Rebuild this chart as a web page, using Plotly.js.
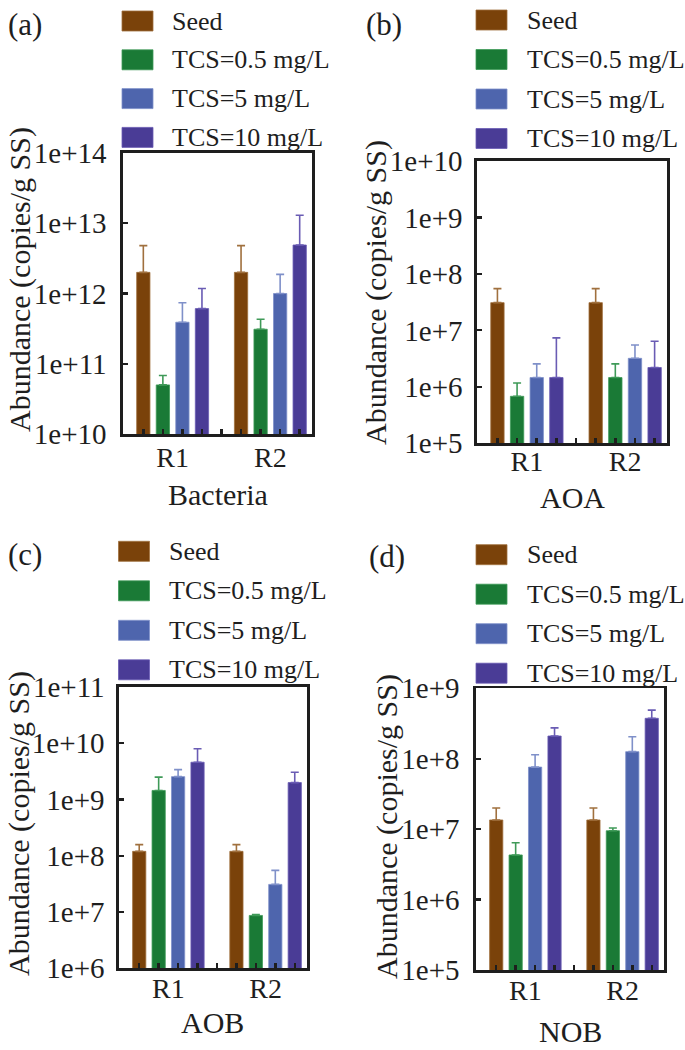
<!DOCTYPE html>
<html><head><meta charset="utf-8">
<script src="https://cdn.plot.ly/plotly-3.0.1.min.js"></script>
<style>html,body{margin:0;padding:0;background:#fff}#chart{width:685px;height:1050px}</style>
</head><body><div id="chart"></div>
<script>
// ---------- data ----------
const categories = ['R1', 'R2'];
const seriesNames = ['Seed', 'TCS=0.5 mg/L', 'TCS=5 mg/L', 'TCS=10 mg/L'];
const panelLabels = ['(a)', '(b)', '(c)', '(d)'];
const panelTitles = ['Bacteria', 'AOA', 'AOB', 'NOB'];
const yTitle = 'Abundance (copies/g SS)';

// mean abundance per series, [R1, R2]
const bacteriaSeed = [2.0e12, 2.0e12];
const bacteriaTcs05 = [5.0e10, 3.1e11];
const bacteriaTcs5 = [3.9e11, 1.0e12];
const bacteriaTcs10 = [6.1e11, 4.9e12];
const bacteriaSeedErr = [2.8e12, 2.8e12];
const bacteriaTcs05Err = [1.8e10, 1.2e11];
const bacteriaTcs5Err = [3.5e11, 8.7e11];
const bacteriaTcs10Err = [5.7e11, 8.1e12];

const aoaSeed = [3.1e7, 3.1e7];
const aoaTcs05 = [6.8e5, 1.46e6];
const aoaTcs5 = [1.46e6, 3.2e6];
const aoaTcs10 = [1.46e6, 2.2e6];
const aoaSeedErr = [2.4e7, 2.4e7];
const aoaTcs05Err = [4.9e5, 1.09e6];
const aoaTcs5Err = [1.09e6, 2.3e6];
const aoaTcs10Err = [5.9e6, 4.2e6];

const aobSeed = [1.2e8, 1.2e8];
const aobTcs05 = [1.45e9, 8.7e6];
const aobTcs5 = [2.55e9, 3.1e7];
const aobTcs10 = [4.6e9, 2.0e9];
const aobSeedErr = [3.8e7, 3.8e7];
const aobTcs05Err = [1.05e9, 3.0e5];
const aobTcs5Err = [8.5e8, 2.4e7];
const aobTcs10Err = [3.4e9, 1.05e9];

const nobSeed = [1.35e7, 1.35e7];
const nobTcs05 = [4.3e6, 9.5e6];
const nobTcs5 = [7.6e7, 1.26e8];
const nobTcs10 = [2.1e8, 3.75e8];
const nobSeedErr = [6.5e6, 6.5e6];
const nobTcs05Err = [2.1e6, 9.0e5];
const nobTcs5Err = [3.8e7, 7.9e7];
const nobTcs10Err = [6.4e7, 1.15e8];

// axis ranges (log10 exponents)
const yRangeExp = [[10, 14], [5, 10], [6, 11], [5, 9]];

// ---------- styling ----------
const W = 685, H = 1050;
const FONT = 'Liberation Serif, Times New Roman, serif';
const INK = '#1e1e1e';
const barColors = ['#7a420a', '#1a7a36', '#4e65ad', '#4a3c96'];
const errColors = ['#a0703e', '#3f9a58', '#7f90c9', '#6a5cb4'];

const panelData = [
  {vals: [bacteriaSeed, bacteriaTcs05, bacteriaTcs5, bacteriaTcs10], errs: [bacteriaSeedErr, bacteriaTcs05Err, bacteriaTcs5Err, bacteriaTcs10Err]},
  {vals: [aoaSeed, aoaTcs05, aoaTcs5, aoaTcs10], errs: [aoaSeedErr, aoaTcs05Err, aoaTcs5Err, aoaTcs10Err]},
  {vals: [aobSeed, aobTcs05, aobTcs5, aobTcs10], errs: [aobSeedErr, aobTcs05Err, aobTcs5Err, aobTcs10Err]},
  {vals: [nobSeed, nobTcs05, nobTcs5, nobTcs10], errs: [nobSeedErr, nobTcs05Err, nobTcs5Err, nobTcs10Err]}
];

// pixel layout of each panel
const geom = [
  {x0: 123, x1: 312, y0: 153, y1: 434, swX: 122, txX: 170, rowY: 21, step: 38.8, labX: 6, labY: 24, ytX: 20, ytY: 280, xtY: 494, ystand: 8, xstand: -3},
  {x0: 477, x1: 667, y0: 161, y1: 443.3, swX: 476, txX: 525, rowY: 20, step: 39.5, labX: 364, labY: 24, ytX: 376, ytY: 293, xtY: 497, ystand: 6, xstand: -9},
  {x0: 119, x1: 307, y0: 687, y1: 968.3, swX: 118.5, txX: 167, rowY: 551.3, step: 39.5, labX: 6, labY: 554, ytX: 19, ytY: 824, xtY: 1022, ystand: 6, xstand: -7},
  {x0: 476, x1: 664, y0: 688.3, y1: 970, swX: 476, txX: 525, rowY: 554.7, step: 39.5, labX: 367, labY: 556, ytX: 387, ytY: 826, xtY: 1031, ystand: 8, xstand: -6}
];
const px = v => v / W;
const py = v => 1 - v / H;

const GROUP_STRIDE = seriesNames.length + 1;
const slots = [];
for (let g = 0; g < categories.length; g++) for (let s = 0; s < GROUP_STRIDE; s++) slots.push(g * GROUP_STRIDE + s);
slots.pop();
const catPos = categories.map((c, g) => g * GROUP_STRIDE + (seriesNames.length - 1) / 2);

const traces = [];
const layout = {
  width: W, height: H,
  margin: {l: 0, r: 0, t: 0, b: 0},
  paper_bgcolor: '#fff', plot_bgcolor: '#fff',
  barmode: 'overlay',
  showlegend: false,
  font: {family: FONT, color: INK, size: 28},
  shapes: [], annotations: []
};

panelData.forEach((pd, p) => {
  const G = geom[p];
  const sfx = p === 0 ? '' : String(p + 1);
  pd.vals.forEach((vals, s) => {
    traces.push({
      type: 'bar', name: seriesNames[s],
      x: categories.map((c, g) => g * GROUP_STRIDE + s),
      y: vals,
      width: 0.68,
      xaxis: 'x' + sfx, yaxis: 'y' + sfx,
      marker: {color: barColors[s], line: {width: 0.8, color: errColors[s]}},
      error_y: {type: 'data', symmetric: false, array: pd.errs[s], arrayminus: vals.map(() => 0),
                color: errColors[s], thickness: 1.6, width: 4},
      hoverinfo: 'x+y'
    });
  });
  layout['xaxis' + sfx] = {
    domain: [px(G.x0), px(G.x1)], anchor: 'y' + sfx,
    range: [-1.04, 8.63],
    tickmode: 'array', tickvals: catPos, ticktext: categories, ticks: '',
    ticklabelstandoff: G.xstand,
    tickfont: {family: FONT, size: 28, color: INK},
    minor: {tickmode: 'array', tickvals: slots, ticks: 'inside', ticklen: 5, tickwidth: 2.5, tickcolor: INK, showgrid: false},
    showline: true, mirror: true, linewidth: 2.6, linecolor: INK,
    showgrid: false, zeroline: false, fixedrange: true
  };
  layout['yaxis' + sfx] = {
    domain: [py(G.y1), py(G.y0)], anchor: 'x' + sfx,
    type: 'log', range: yRangeExp[p], dtick: 1,
    exponentformat: 'e', showexponent: 'all',
    ticks: 'inside', ticklen: 5, tickwidth: 2.2, tickcolor: INK,
    ticklabelstandoff: G.ystand,
    tickfont: {family: FONT, size: 29, color: INK},
    showline: true, mirror: true, linewidth: 2.6, linecolor: INK,
    showgrid: false, zeroline: false, fixedrange: true
  };
  // legend
  seriesNames.forEach((nm, s) => {
    const cy = G.rowY + s * G.step;
    layout.shapes.push({type: 'rect', xref: 'paper', yref: 'paper',
      x0: px(G.swX), x1: px(G.swX + 31), y0: py(cy + 10), y1: py(cy - 10),
      fillcolor: barColors[s], line: {width: 0.8, color: errColors[s]}});
    layout.annotations.push({xref: 'paper', yref: 'paper', x: px(G.txX), y: py(cy),
      xanchor: 'left', yanchor: 'middle', showarrow: false, text: nm,
      font: {family: FONT, size: 26, color: INK}});
  });
  layout.annotations.push({xref: 'paper', yref: 'paper', x: px(G.labX), y: py(G.labY),
    xanchor: 'left', yanchor: 'middle', showarrow: false, text: panelLabels[p],
    font: {family: FONT, size: 31, color: INK}});
  layout.annotations.push({xref: 'paper', yref: 'paper', x: px(G.ytX), y: py(G.ytY),
    xanchor: 'center', yanchor: 'middle', showarrow: false, text: yTitle, textangle: -90,
    font: {family: FONT, size: 30, color: INK}});
  layout.annotations.push({xref: 'paper', yref: 'paper', x: px((G.x0 + G.x1) / 2), y: py(G.xtY),
    xanchor: 'center', yanchor: 'middle', showarrow: false, text: panelTitles[p],
    font: {family: FONT, size: 30, color: INK}});
});

Plotly.newPlot('chart', traces, layout, {displayModeBar: false, staticPlot: true});
</script>
</body></html>
